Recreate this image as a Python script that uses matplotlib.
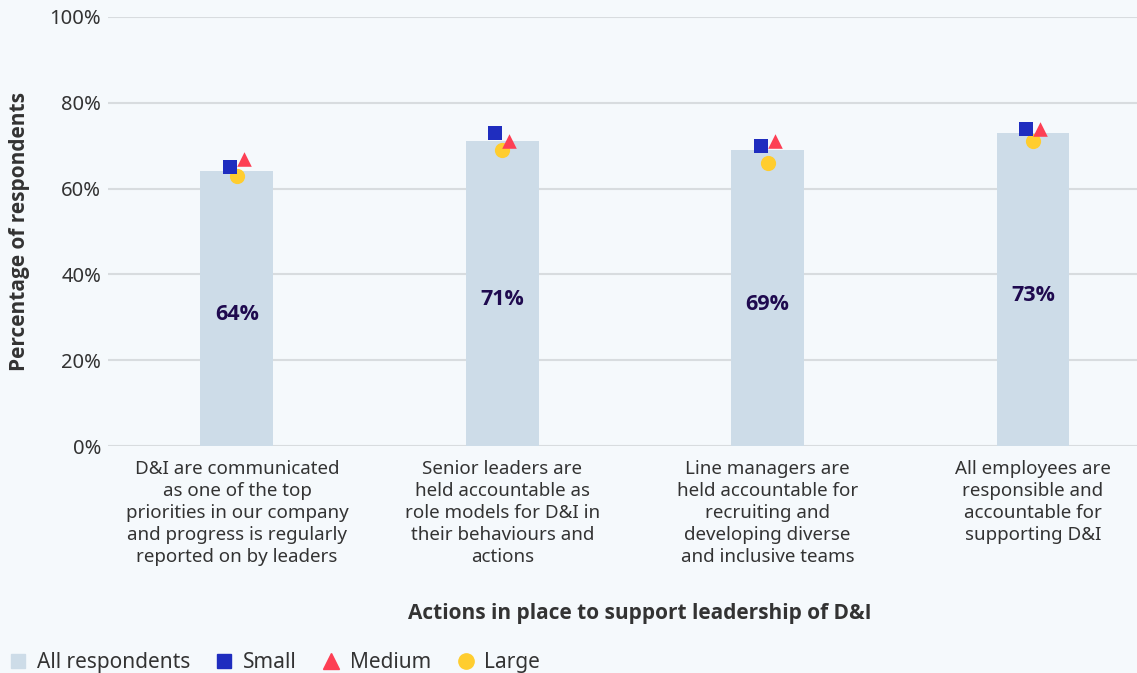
import numpy as np
import matplotlib.pyplot as plt
import matplotlib.transforms as mtransforms
from matplotlib.lines import Line2D

plt.rcParams['font.family'] = ['Noto Sans', 'DejaVu Sans']
BOLD = ['Open Sans', 'DejaVu Sans']

# ── data ────────────────────────────────────────────────
categories = [
    "D&I are communicated\nas one of the top\npriorities in our company\nand progress is regularly\nreported on by leaders",
    "Senior leaders are\nheld accountable as\nrole models for D&I in\ntheir behaviours and\nactions",
    "Line managers are\nheld accountable for\nrecruiting and\ndeveloping diverse\nand inclusive teams",
    "All employees are\nresponsible and\naccountable for\nsupporting D&I",
]
all_respondents = [64, 71, 69, 73]
small = [65, 73, 70, 74]
medium = [67, 71, 71, 74]
large = [63, 69, 66, 71]
yticks = [0, 20, 40, 60, 80, 100]

BG = "#f5f9fc"
BAR = "#cddce8"
SMALL_C = "#1f2dbf"
MEDIUM_C = "#fd3f54"
LARGE_C = "#ffcd2f"
LABEL_C = "#1f0a4f"
TEXT_C = "#333333"

# ── figure ──────────────────────────────────────────────
fig = plt.figure(figsize=(11.37, 6.73), dpi=100, facecolor=BG)
ax = fig.add_axes([108 / 1137, 227 / 673, 1 - 108 / 1137, 429 / 673])
ax.set_facecolor(BG)

x = np.arange(len(categories))
ax.bar(x, all_respondents, width=0.275, color=BAR, zorder=2)

for xi, v in zip(x, all_respondents):
    ax.annotate(f"{v}%", (xi, v / 2), xytext=(0, -4.5), textcoords="offset points",
                ha="center", va="center", fontsize=15.5, fontweight="bold",
                family=BOLD, color=LABEL_C, zorder=4)

# small offsets so overlapping markers stay visible
left = ax.transData + mtransforms.ScaledTranslation(-5 / 72, 0, fig.dpi_scale_trans)
right = ax.transData + mtransforms.ScaledTranslation(5 / 72, 0, fig.dpi_scale_trans)
ax.scatter(x, large, marker="o", s=120, color=LARGE_C, zorder=3, linewidths=0)
ax.scatter(x, small, marker="s", s=110, color=SMALL_C, zorder=4, linewidths=0,
           transform=left)
ax.scatter(x, medium, marker="^", s=110, color=MEDIUM_C, zorder=5, linewidths=0,
           transform=right)

ax.set_xlim(-0.486, 3.392)
ax.set_ylim(0, 100)
ax.set_yticks(yticks)
ax.set_yticklabels([f"{t}%" for t in yticks], fontsize=14.5, color=TEXT_C)
ax.yaxis.grid(True, color="#d8dcdf", linewidth=1.5, zorder=0)
ax.tick_params(axis="y", length=0, pad=5)
ax.tick_params(axis="x", length=0, pad=10)
ax.set_xticks(x)
ax.set_xticklabels(categories, fontsize=13.5, color=TEXT_C, linespacing=1.28)
for s in ax.spines.values():
    s.set_visible(False)

ax.set_ylabel("Percentage of respondents", fontsize=15, fontweight="bold",
              family=BOLD, color=TEXT_C, labelpad=14)
fig.text(640 / 1137, 1 - 614 / 673, "Actions in place to support leadership of D&I",
         ha="center", va="center", fontsize=15, fontweight="bold", family=BOLD,
         color=TEXT_C)

handles = [
    Line2D([], [], marker="s", linestyle="", color=BAR, markersize=10),
    Line2D([], [], marker="s", linestyle="", color=SMALL_C, markersize=10),
    Line2D([], [], marker="^", linestyle="", color=MEDIUM_C, markersize=11),
    Line2D([], [], marker="o", linestyle="", color=LARGE_C, markersize=11),
]
fig.legend(handles, ["All respondents", "Small", "Medium", "Large"],
           loc="lower left", bbox_to_anchor=(-0.008, -0.028), ncol=4, frameon=False,
           fontsize=15, handlelength=0.8, handletextpad=0.5, columnspacing=1.25,
           labelcolor=TEXT_C)

plt.savefig("out.png", dpi=100, facecolor=BG)
